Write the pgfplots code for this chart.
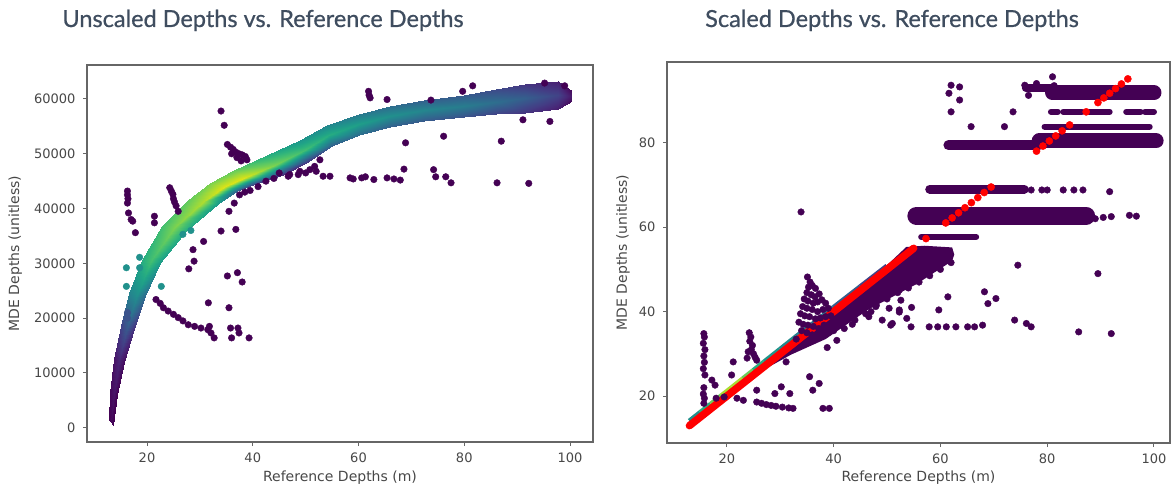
\documentclass[border=0pt]{standalone}
\usepackage{fontspec}
\setmainfont{DejaVu Sans}
\newfontfamily\titlefont{Lato}[FakeBold=0.7]
\usepackage{pgfplots}
\pgfplotsset{compat=1.18}

\definecolor{vpurple}{RGB}{68,1,84}
\definecolor{titlecol}{HTML}{3F4D5F}
\definecolor{framecol}{HTML}{666666}

\pgfplotsset{
  mdeaxis/.style={
    scale only axis,
    anchor=south west,
    tick pos=left,
    tick align=outside,
    major tick length=4pt,
    axis line style={framecol, line width=1.2pt},
    every tick/.style={framecol, line width=1pt},
    tick label style={font=\fontsize{13}{15}\selectfont, text=black!72},
    xticklabel style={yshift=-3pt},
    yticklabel style={xshift=-4pt},
    label style={font=\fontsize{14}{16}\selectfont, text=black!72},
    /pgf/number format/assume math mode=true,
    /pgf/number format/1000 sep={},
    scaled ticks=false,
    colormap/viridis,
    point meta min=0, point meta max=1,
    xtick={20,40,60,80,100},
    xlabel={Reference Depths (m)},
    ylabel={MDE Depths (unitless)},
  },
  pdot/.style={only marks, mark=*, mark size=3.3pt, color=vpurple},
  stripe/.style={vpurple, line cap=round, forget plot},
}

\begin{document}
\begin{tikzpicture}

% ---------------- left: unscaled ----------------
\begin{axis}[mdeaxis,
  at={(87pt,46pt)}, width=506pt, height=377pt,
  xmin=8.65, xmax=104.35, ymin=-2600, ymax=66200,
  ytick={0,10000,...,60000},
  xlabel style={at={(axis description cs:0.5,-0.095)}, anchor=center},
  ylabel style={at={(axis description cs:-0.142,0.5)}, anchor=center},
]
% dense band: lower edge, centre, upper edge
\addplot[surf, shader=interp, mesh/rows=3, point meta=explicit] table[meta=c] {
x y c
13.5 500 0.0
14.4 6000 0.0
15.7 12000 0.03
17.5 18000 0.14
19.7 24000 0.35
22.5 30000 0.55
27.5 36000 0.62
33.4 40800 0.55
37 43200 0.3
40 44300 0.18
45.8 46200 0.1
50 48300 0.15
55 51500 0.3
60 53500 0.35
66 54900 0.3
72.4 55900 0.28
80 56800 0.25
86 57200 0.2
91.4 57500 0.15
97.8 58100 0.08
100.3 59700 0.02

13.2 1000 0.02
13.7 6200 0.05
14.75 12250 0.1
16.25 18250 0.28
18.15 24300 0.5
20.8 30350 0.7
25.15 36400 0.8
30.6 41200 0.88
34.5 43900 0.95
38.25 45650 0.95
44.25 48000 0.8
49.45 50450 0.7
54.5 53350 0.62
60 55400 0.56
66 56850 0.5
72.4 57900 0.46
80 58800 0.42
86 59500 0.36
91.4 60100 0.3
97.8 60700 0.2
100.3 60600 0.06

12.9 1500 0.0
13.0 6400 0.02
13.8 12500 0.05
15.0 18500 0.2
16.6 24600 0.45
19.1 30700 0.62
22.8 36800 0.7
27.8 41600 0.76
32 44600 0.8
36.5 47000 0.76
42.7 49800 0.62
48.9 52600 0.52
54 55200 0.46
60 57300 0.4
66 58800 0.35
72.4 59900 0.3
80 60800 0.28
86 61800 0.22
91.4 62700 0.15
97.8 63300 0.08
100.3 61500 0.02
};
% purple outliers
\addplot[pdot] coordinates {
(16.3,43200)(16.3,42500)(16.4,41800)(16.3,41000)(16.5,39200)(17.0,38000)
(17.3,37700)(17.8,35600)(21.4,38600)(21.4,37400)
(24.3,43800)(24.6,43200)(24.9,42600)(25.0,41800)(25.2,41200)(25.5,40500)(25.9,39500)
(27.9,29000)(28.7,32500)(28.9,30400)(30.7,34000)(31.6,22800)
(21.7,23400)(22.5,22700)(23.1,21900)(24.0,21300)(25.0,20700)(25.9,20100)
(26.8,19500)(27.8,18800)(29.0,18500)(30.2,18200)(31.5,17900)(32.1,17300)
(32.7,16400)(31.8,18500)
(34.0,57800)(34.6,55200)(34.0,35900)(35.5,39500)(35.2,27700)(35.5,21900)
(35.8,18200)(36.0,16400)(36.8,36200)(37.1,28300)(38.0,26600)(37.2,18200)
(37.4,17300)(39.3,16400)
(35.2,51700)(35.8,51200)(36.3,50800)(36.8,50300)(37.4,50000)(38.0,49800)
(38.6,49500)(38.9,48900)(36.0,50000)(37.0,49300)(37.8,48700)
(36.5,41000)(37.5,42500)(38.5,43000)(39.5,43300)
(45.0,46500)(46.7,45900)(48.6,46200)(47.0,46200)(48.9,46800)(50.8,47100)
(51.7,47700)(52.7,48900)(53.3,45900)(54.6,45900)(41.0,44000)(42.5,45000)
(44.0,45500)(50.0,46500)(52.0,46800)
(58.4,45600)(59.0,45400)(60.6,45600)(61.3,45800)(62.9,45300)(65.4,45600)
(66.7,45400)(67.9,45200)
(68.6,47200)(74.2,47100)(74.6,45800)(76.5,45800)(77.5,44700)(86.2,44700)(92.2,44600)
(61.9,61400)(62.0,60700)(62.2,60200)(65.4,59900)(68.9,52000)(76.1,53200)
(87.0,52300)(91.1,56200)(96.2,55900)(73.7,59800)(79.7,61400)(81.6,62400)
(95.2,62900)(99.0,62400)
};
% teal and blue outliers
\addplot[only marks, mark=*, mark size=3.3pt, color={rgb,255:red,33;green,145;blue,140}] coordinates {
(16.1,29200)(16.1,25800)(18.6,31100)(18.6,29200)(26.8,35300)(28.3,36000)(22.7,25800)
};
\addplot[only marks, mark=*, mark size=3.3pt, color={rgb,255:red,59;green,82;blue,139}] coordinates {
(16.3,21000)(16.3,20000)
};
\end{axis}

% ---------------- right: scaled ----------------
\begin{axis}[mdeaxis,
  at={(667pt,45pt)}, width=503pt, height=381pt,
  xmin=8.8, xmax=103, ymin=8.9, ymax=99.1,
  ytick={20,40,60,80},
  xlabel style={at={(axis description cs:0.5,-0.092)}, anchor=center},
  ylabel style={at={(axis description cs:-0.0875,0.5)}, anchor=center},
]
% dense purple region below the diagonal
\addplot[draw=none, fill=vpurple] coordinates {
(27,27.6)(33,33.6)(38,38.8)(44,45)(50,51)(53.6,55.3)(57,55.6)(62.2,55.2)
(62.6,53.5)(62.2,52)(55.5,46.5)(46.5,40.5)(38.5,33.5)(32,29.8)(27,26.3)
} -- cycle;
% horizontal stripes
\addplot[stripe, line width=15pt] coordinates {(81,91.8)(100,91.8)};
\addplot[stripe, line width=8pt] coordinates {(76,93)(81,93)};
\addplot[stripe, line width=6pt] coordinates {(80.7,87.3)(82,87.3)};
\addplot[stripe, line width=6pt] coordinates {(83,87.3)(86.5,87.3)};
\addplot[stripe, line width=6pt] coordinates {(87.5,87.3)(91.7,87.3)};
\addplot[stripe, line width=6pt] coordinates {(94.8,87.3)(97.5,87.3)};
\addplot[stripe, line width=6pt] coordinates {(98.3,87.3)(100,87.3)};
\addplot[stripe, line width=6pt] coordinates {(79.5,83.8)(99.2,83.8)};
\addplot[stripe, line width=10pt] coordinates {(61.5,79.4)(78.5,79.4)};
\addplot[stripe, line width=15pt] coordinates {(78.5,80.4)(100.4,80.4)};
\addplot[stripe, line width=9pt] coordinates {(58,69)(75.7,69)};
\addplot[stripe, line width=18pt] coordinates {(55.5,62.7)(87.3,62.7)};
\addplot[stripe, line width=6pt] coordinates {(56.4,57.7)(66.7,57.7)};
% purple outliers
\addplot[pdot] coordinates {
(15.7,34.8)(15.8,34.0)(15.6,32.5)(15.9,31.0)(15.7,29.5)(15.8,28.0)(15.6,26.5)
(15.9,25.0)(15.7,22.0)(15.6,20.5)(15.8,19.5)(15.7,18.3)
(17.2,23.8)(17.8,22.6)(21.2,28.1)(20.9,25.0)(18.0,19.5)(19.5,19.8)
(24.2,35.0)(24.5,34.0)(24.3,33.0)(24.8,32.0)(24.6,31.0)(25.0,30.0)(25.3,29.2)
(23.8,29.0)(24.0,30.5)(25.6,28.5)(25.6,21.4)
(21.9,19.5)(23.1,19.0)(25.6,18.6)(27.4,18.0)(29.2,17.6)(31.6,17.2)(30.4,17.4)
(32.4,17.1)(26.5,18.3)(28.3,17.8)
(29.0,20.6)(30.2,22.2)(31.1,28.1)(31.8,20.6)(35.5,24.6)(36.1,21.4)(37.3,23.0)
(38.0,17.1)(39.2,17.1)(33.9,63.6)
(35.1,48.2)(35.6,47.0)(35.3,45.8)(36.0,46.2)(36.6,45.5)(35.0,44.5)(35.8,44.0)
(36.5,43.5)(37.3,44.2)(34.5,43.0)(35.2,42.5)(36.2,42.0)(37.0,42.3)(37.8,42.8)
(38.5,42.0)(34.2,41.2)(35.0,40.8)(36.0,40.5)(37.0,40.0)(38.0,40.5)(39.0,40.8)
(33.8,39.5)(34.6,39.0)(35.5,38.8)(36.6,38.3)(37.5,38.5)(38.5,38.8)(39.5,39.0)
(33.5,37.5)(34.3,37.0)(35.2,36.8)(36.2,36.5)(37.2,36.0)(38.2,36.8)(39.4,37.0)
(34.0,35.5)(35.0,35.0)(36.0,34.5)(37.0,34.2)(38.0,34.5)(39.0,35.0)(40.0,35.5)
(33.0,33.5)(40.6,33.2)(38.8,31.5)
(42,36)(44,38)(46,39.5)(48,41.5)(50,43)(52,44.5)(54,45.6)(56,47)(58,48.5)
(60,50)(62,51.6)(43.5,37)(47,40)(52.3,39.9)(54.6,41.0)
(47.9,41.2)(46.6,38.8)(49.1,38.0)
(50.4,40.8)(51.0,37.2)(52.3,45.1)(52.6,42.7)(52.3,40.4)(50.7,36.8)(53.7,38.4)
(74.5,51.0)(89.5,49.0)(61.4,43.5)(59.7,40.4)(68.25,44.7)(68.9,41.9)(70.4,43.1)
(54.5,36.4)(57.9,36.4)(59.5,36.4)(61.1,36.4)(62.9,36.4)(65.1,36.4)(66.4,36.4)
(67.9,36.8)(73.9,38.0)(76.1,37.2)(77.0,36.4)(85.9,35.2)(92.0,34.8)
(62.0,93.6)(63.6,93.2)(61.6,91.7)(63.6,90.1)(62.0,87.3)(65.75,83.8)(72.0,83.8)
(73.6,87.3)(75.8,93.6)(76.5,91.2)(81.0,95.6)(81.3,93.5)(78.0,94.0)
(77,68.8)(79,68.8)(80,68.8)(83,68.8)(85,68.8)(86.7,68.8)(91.7,68.4)
(88,62.3)(89,62.0)(90.5,62.3)(92,62.5)(95.4,62.8)(96.7,62.6)
};
% coloured streak just above the diagonal
\addplot[mesh, line width=5pt, point meta=explicit] coordinates {
(13,14.1) [0.45] (15,16.1) [0.55] (17,18.1) [0.7] (19,20.1) [0.85]
(21,22.1) [0.9] (23,24.1) [0.85] (25,26.1) [0.7] (27,28.1) [0.55]
(30,31.1) [0.5] (33,34.1) [0.45] (36,37.0) [0.4] (40,41.0) [0.35]
(45,45.9) [0.25] (50,50.8) [0.15]
};
% red reference points (y = x)
\addplot[red, line width=7.5pt, line cap=round] coordinates {(13,13)(55,55)};
\addplot[only marks, mark=*, mark size=3.6pt, color=red] coordinates {
(57.3,57.3)
(61,61)(62.2,62.2)(63.4,63.4)(64.6,64.6)(65.8,65.8)(67,67)(68.2,68.2)(69.5,69.5)
(78,78)(79.2,79.2)(80.4,80.4)(81.6,81.6)(82.8,82.8)(84.2,84.2)
(87.3,87.3)
(89.5,89.5)(90.6,90.6)(91.7,91.7)(92.8,92.8)(93.9,93.9)(95.1,95.1)
};
\end{axis}

% titles
\node[anchor=base, font=\titlefont\fontsize{23.5}{28}\selectfont, text=titlecol]
  at (263pt,461pt) {Unscaled Depths vs. Reference Depths};
\node[anchor=base, font=\titlefont\fontsize{23.5}{28}\selectfont, text=titlecol]
  at (892pt,461pt) {Scaled Depths vs. Reference Depths};

\pgfresetboundingbox
\path[use as bounding box] (0,0) rectangle (1172pt,488pt);
\end{tikzpicture}
\end{document}
